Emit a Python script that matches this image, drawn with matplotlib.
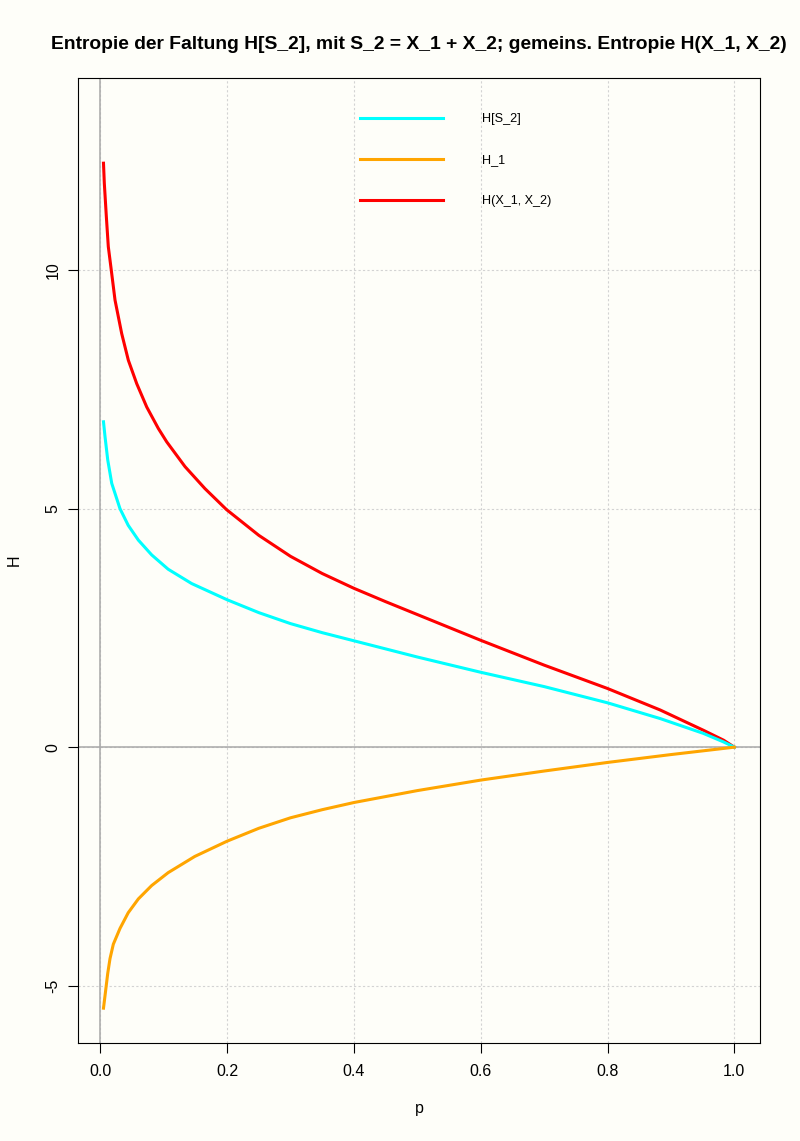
import matplotlib
matplotlib.use("Agg")
import matplotlib.pyplot as plt

plt.rcParams['font.family'] = ['Liberation Sans', 'DejaVu Sans']

# values
p_red = [0.005, 0.0063, 0.0095, 0.0126, 0.0169, 0.0232, 0.0337, 0.0442, 0.0574,
         0.0732, 0.0915, 0.1047, 0.1336, 0.165, 0.199, 0.25, 0.30, 0.35,
         0.40, 0.45, 0.50, 0.60, 0.70, 0.80, 0.883, 0.951, 0.983, 1.0]
h_joint = [12.24, 11.82, 11.12, 10.49, 10.04, 9.37, 8.67, 8.11, 7.62,
           7.13, 6.68, 6.40, 5.88, 5.42, 4.98, 4.44, 4.00, 3.64,
           3.33, 3.05, 2.78, 2.24, 1.72, 1.23, 0.78, 0.356, 0.147, 0.0]

p_cyan = [0.005, 0.0074, 0.0117, 0.018, 0.031, 0.044, 0.060, 0.081, 0.107,
          0.144, 0.20, 0.25, 0.30, 0.35, 0.40, 0.45, 0.50, 0.60, 0.70, 0.80,
          0.883, 0.951, 0.983, 1.0]
h_s2 = [6.82, 6.51, 6.02, 5.53, 5.00, 4.65, 4.34, 4.03, 3.73,
        3.43, 3.09, 2.82, 2.59, 2.40, 2.23, 2.06, 1.89, 1.57, 1.27, 0.93,
        0.60, 0.29, 0.11, 0.0]

p_orange = [0.005, 0.0085, 0.0117, 0.0153, 0.0205, 0.031, 0.044, 0.060, 0.081,
            0.107, 0.149, 0.20, 0.25, 0.30, 0.35, 0.40, 0.50, 0.60, 0.70,
            0.80, 0.90, 1.0]
h_1 = [-5.47, -5.09, -4.74, -4.43, -4.13, -3.80, -3.47, -3.18, -2.90,
       -2.63, -2.29, -1.97, -1.70, -1.48, -1.31, -1.16, -0.91, -0.69, -0.50,
       -0.32, -0.155, 0.0]

xticks = [0.0, 0.2, 0.4, 0.6, 0.8, 1.0]
xticklabels = ["0.0", "0.2", "0.4", "0.6", "0.8", "1.0"]
yticks = [-5, 0, 5, 10]

bg = '#fefef9'
fig = plt.figure(figsize=(8, 11.41), dpi=100, facecolor=bg)
ax = fig.add_axes([0.0979, 0.0859, 0.8517, 0.8455])
ax.set_facecolor(bg)

ax.set_xlim(-0.0347, 1.040)
ax.set_ylim(-6.2, 14.02)

ax.grid(True, linestyle=(0, (2, 2)), color='lightgray', linewidth=0.8)
ax.axhline(0, color='#a8a8a8', linewidth=1.1)
ax.axvline(0, color='#a8a8a8', linewidth=1.1)

lw = 2.2
l_red, = ax.plot(p_red, h_joint, color='red', lw=lw, label='H(X_1, X_2)')
l_cyan, = ax.plot(p_cyan, h_s2, color='cyan', lw=lw, label='H[S_2]')
l_orange, = ax.plot(p_orange, h_1, color='orange', lw=lw, label='H_1')

ax.set_xticks(xticks)
ax.set_xticklabels(xticklabels)
ax.set_yticks(yticks)
ax.set_yticklabels([str(v) for v in yticks], rotation=90, va='center')
ax.tick_params(direction='out', length=7, width=0.8, labelsize=11.5,
               colors='black')
ax.tick_params(axis='x', pad=8)
ax.tick_params(axis='y', pad=6)
for s in ax.spines.values():
    s.set_linewidth(0.8)

ax.set_xlabel('p', fontsize=11.5, labelpad=16)
ax.set_ylabel('H', fontsize=11.5, labelpad=17)
ax.set_title('Entropie der Faltung H[S_2], mit S_2 = X_1 + X_2; gemeins. Entropie H(X_1, X_2)',
             fontsize=13.9, fontweight='bold', pad=21)

ax.legend(handles=[l_cyan, l_orange, l_red], loc='upper left',
          bbox_to_anchor=(0.413, 0.964), frameon=False, fontsize=9.1,
          handlelength=6.6, handletextpad=3.1, labelspacing=2.3,
          borderpad=0, borderaxespad=0)

fig.savefig('out.png', dpi=100, facecolor=bg)
